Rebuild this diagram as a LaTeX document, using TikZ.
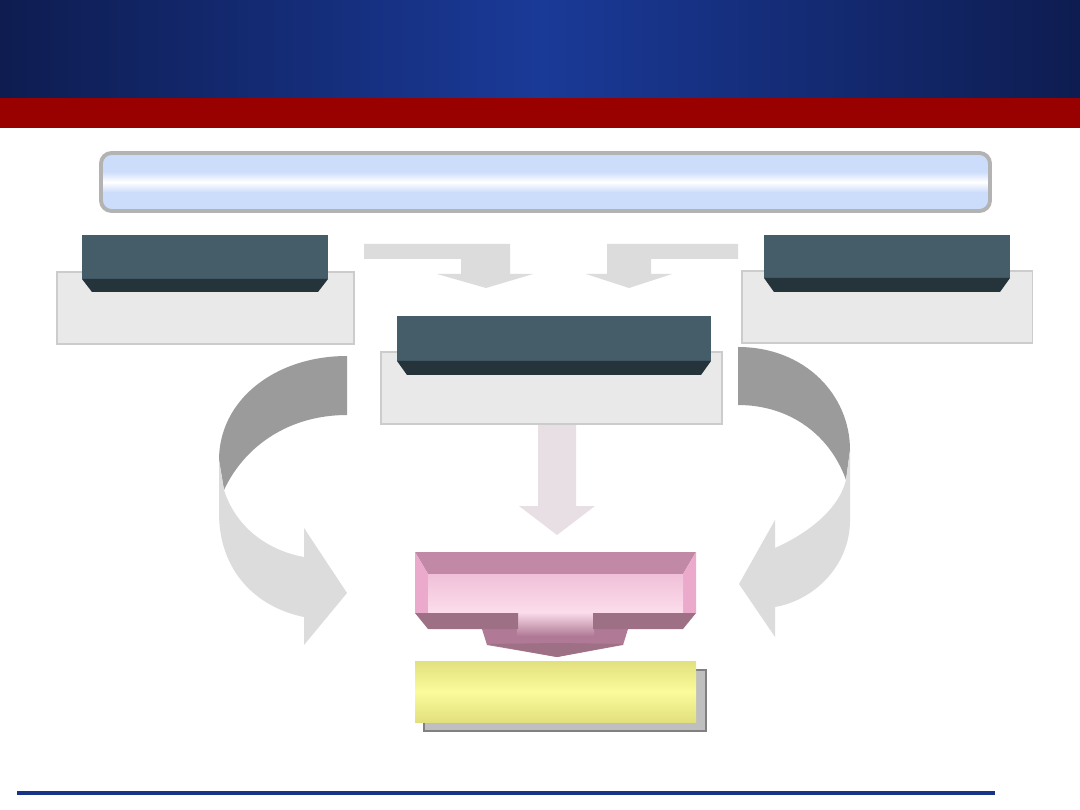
\documentclass[tikz,border=0pt]{standalone}
\usepackage{tikz}
\definecolor{navy}{HTML}{0E1C50}
\definecolor{royal}{HTML}{1A3A98}
\definecolor{maroon}{HTML}{990000}
\definecolor{barblue}{HTML}{CCDCFB}
\definecolor{barrim}{HTML}{B3B3B3}
\definecolor{slate}{HTML}{455D69}
\definecolor{slatedark}{HTML}{25333B}
\definecolor{panelgray}{HTML}{E9E9E9}
\definecolor{arrowgray}{HTML}{DCDCDC}
\definecolor{arrowdark}{HTML}{9B9B9B}
\definecolor{mauvepale}{HTML}{E8DFE5}
\definecolor{pinktop}{HTML}{C189A5}
\definecolor{pinkside}{HTML}{EBA9CB}
\definecolor{pinkmid}{HTML}{F0C0D8}
\definecolor{pinklight}{HTML}{FCDDEC}
\definecolor{pinkdeep}{HTML}{9D7086}
\definecolor{pinkarrow}{HTML}{B07A96}
\definecolor{lemon}{HTML}{FBFB9B}
\definecolor{lemondark}{HTML}{E2E07E}
\pgfdeclareverticalshading{barshade}{100bp}{color(0bp)=(barblue); color(25bp)=(barblue);
  color(41bp)=(barblue); color(50bp)=(white); color(59bp)=(barblue); color(100bp)=(barblue)}
\tikzset{
  panelbox/.style={fill=panelgray, draw=black!20, line width=.3pt},
  flatarrow/.style={fill=arrowgray},
}

\begin{document}
\begin{tikzpicture}[x=0.01cm, y=-0.01cm]
        \fill[white] (0, 0) rectangle (1080, 810);
        \useasboundingbox (0, 0) rectangle (1080, 810);
        \shade[left color=navy, right color=navy, middle color=royal] (0, 0) rectangle (1080, 99);
        \fill[maroon] (0, 98) rectangle (1080, 128);
        \shadedraw[rounded corners=3, draw=barrim, line width=1.1pt, shading=barshade]
          (101, 153) rectangle (990, 211);
        \foreach \gx/\gy/\gX/\gY/\dx/\dy/\dX/\dY/\bY in
          {57/272/354/344/82/235/328/279/292, 742/271/1032/343/764/235/1010/278/292, 381/352/722/424/397/316/711/361/375}{
          \draw[panelbox] (\gx, \gy) rectangle (\gX, \gY);
          \fill[slate] (\dx, \dy) rectangle (\dX, \dY);
          \fill[slatedark] (\dx, \dY) -- (\dX, \dY) -- (\dX-10, \bY) -- (\dx+10, \bY) -- cycle;
        };
        \fill[flatarrow] (364, 244) -- (510, 244) -- (510, 274) -- (533, 274) -- (486, 288)
          -- (437, 274) -- (461, 274) -- (461, 259) -- (364, 259) -- cycle;
        \fill[flatarrow] (738, 244) -- (607, 244) -- (607, 274) -- (586, 274) -- (629, 288)
          -- (672, 274) -- (651, 274) -- (651, 259) -- (738, 259) -- cycle;
        \fill[mauvepale] (538, 425) -- (576, 425) -- (576, 506) -- (595, 506) -- (557, 535)
          -- (519, 506) -- (538, 506) -- cycle;
        \fill[arrowdark] (347, 356) .. controls (275, 356) and (219, 400) .. (219, 460)
          -- (224, 490) .. controls (245, 445) and (290, 415) .. (347, 415) -- cycle;
        \fill[arrowgray] (219, 460) -- (219, 513) .. controls (219, 570) and (255, 607) .. (304, 617)
          -- (304, 645) -- (347, 593) -- (304, 528) -- (304, 557)
          .. controls (265, 550) and (235, 525) .. (224, 490) -- cycle;
        \fill[arrowdark] (738, 347) .. controls (805, 347) and (850, 395) .. (850, 450)
          -- (846, 480) .. controls (830, 435) and (790, 405) .. (738, 405) -- cycle;
        \fill[arrowgray] (850, 450) -- (850, 520) .. controls (850, 565) and (815, 600) .. (775, 607)
          -- (775, 637) -- (739, 584) -- (775, 520) -- (775, 548)
          .. controls (815, 530) and (840, 505) .. (846, 480) -- cycle;
        \fill[pinktop] (415, 552) -- (696, 552) -- (683, 574) -- (428, 574) -- cycle;
        \fill[pinkside] (415, 552) -- (428, 574) -- (428, 613) -- (415, 613) -- cycle;
        \fill[pinkside] (696, 552) -- (683, 574) -- (683, 613) -- (696, 613) -- cycle;
        \shade[top color=pinkmid, bottom color=pinklight] (428, 574) rectangle (683, 613);
        \fill[pinkarrow] (482, 629) -- (628, 629) -- (623, 645) -- (557, 657) -- (487, 645) -- cycle;
        \fill[pinkdeep] (487, 644) -- (557, 643) -- (624, 644) -- (557, 657) -- cycle;
        \shade[top color=pinklight, bottom color=pinkarrow] (517, 612) rectangle (594, 636);
        \fill[pinkdeep] (415, 613) -- (518, 613) -- (518, 629) -- (428, 629) -- cycle;
        \fill[pinkdeep] (696, 613) -- (593, 613) -- (593, 629) -- (683, 629) -- cycle;
        \draw[fill=black!25, draw=black!50, line width=.3pt] (424, 670) rectangle (706, 731);
        \shade[top color=lemondark, bottom color=lemondark, middle color=lemon] (415, 661) rectangle (696, 722);
        \draw[color=royal!90!black, line width=1pt] (17, 793) -- (995, 793);
      \end{tikzpicture}
\end{document}
